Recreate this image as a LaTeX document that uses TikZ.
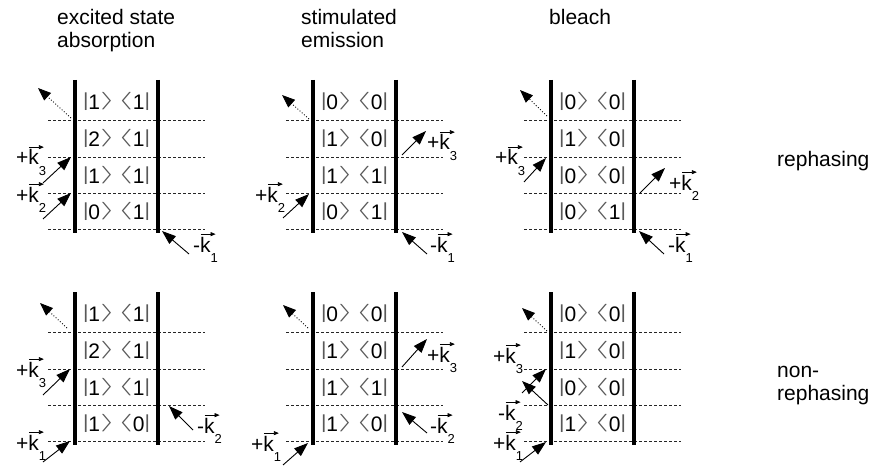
\documentclass[tikz,border=0pt]{standalone}
\usepackage{fontspec}
\setmainfont{Liberation Sans}
\usepackage{graphicx}
\usetikzlibrary{arrows.meta}
\definecolor{bkgray}{gray}{0.35}
\newcommand\vb{{\color{bkgray}\raisebox{3pt}{\scalebox{1}[0.9]{|}}}}
\newcommand\kt[1]{\vb#1{\color{bkgray}\raisebox{4pt}{\scalebox{1.9}[0.85]{$\rangle$}}}}
\newcommand\br[1]{{\color{bkgray}\raisebox{4pt}{\scalebox{1.9}[0.85]{$\langle$}}}#1\vb}
\newcommand\kb[2]{\kt{#1}\hspace{2pt}\br{#2}}
\newcommand\kvec[2]{#1\makebox[0pt][l]{\raisebox{0.85em}{\tikz[baseline=0pt]\draw[line width=0.8pt,-{Triangle[length=5pt,width=4pt]}](0pt,0pt)--(15pt,0pt);}}k\raisebox{-0.5em}{\fontsize{13}{13}\selectfont #2}}
\newcommand\panelbody[5]{%
  \foreach \yy in {120,157,193,229} {\draw[dline] (-27,\yy) -- (130,\yy);}
  \draw[bar] (0,80) -- (0,233);
  \draw[bar] (83,80) -- (83,233);
  \node (#1a) at (41.5,101) {#2};
  \node (#1b) at (41.5,138.5) {#3};
  \node (#1c) at (41.5,175) {#4};
  \node (#1d) at (41.5,211) {#5};}
\newcommand\arr[4]{\coordinate (#2s) at (#3); \coordinate (#2e) at (#4); \draw[#1] (#2s) -- (#2e);}
\begin{document}
\begin{tikzpicture}[x=1pt,y=-1pt,
  every node/.style={inner sep=0pt,font=\fontsize{21}{24}\selectfont},
  bar/.style={line width=4.5pt},
  dline/.style={dash pattern=on 3pt off 2pt,line width=0.9pt,black!85},
  inarr/.style={line width=0.9pt,-{Triangle[length=14pt,width=10pt]}},
  outarr/.style={line width=0.9pt,dotted,-{Triangle[length=13pt,width=10pt]}},
  lbl/.style={anchor=base west}]
\useasboundingbox (0,0) rectangle (876,468);
% titles
\node[lbl] (t1a) at (57,25) {excited state};
\node[lbl] (t1b) at (57,48) {absorption};
\node[lbl] (t2a) at (301,25) {stimulated};
\node[lbl] (t2b) at (301,48) {emission};
\node[lbl] (t3) at (549,25) {bleach};
\node[lbl] (r1) at (777,167) {rephasing};
\node[lbl] (r2a) at (777,377) {non-};
\node[lbl] (r2b) at (777,400) {rephasing};
% ESA rephasing
\begin{scope}[shift={(75,0)}]
\panelbody{esaR}{\kb11}{\kb21}{\kb11}{\kb01}
\arr{outarr}{esaRo}{-4,118}{-37,88}
\arr{inarr}{esaRk3}{-32,183}{-4,157}
\node[lbl] (esaRl3) at (-59,165) {\kvec{+}{3}};
\arr{inarr}{esaRk2}{-32,219}{-4,193}
\node[lbl] (esaRl2) at (-59,202) {\kvec{+}{2}};
\arr{inarr}{esaRk1}{114,254}{87,231}
\node[lbl] (esaRl1) at (118,252) {\kvec{-}{1}};
\end{scope}
% SE rephasing
\begin{scope}[shift={(313,0)}]
\panelbody{seR}{\kb00}{\kb10}{\kb11}{\kb01}
\arr{outarr}{seRo}{-4,119}{-31,95}
\arr{inarr}{seRk2}{-30,218}{-4,194}
\node[lbl] (seRl2) at (-58,202) {\kvec{+}{2}};
\arr{inarr}{seRk3}{89,155}{113,131}
\node[lbl] (seRl3) at (114,150) {\kvec{+}{3}};
\arr{inarr}{seRk1}{114,254}{89,232}
\node[lbl] (seRl1) at (117,252) {\kvec{-}{1}};
\end{scope}
% bleach rephasing
\begin{scope}[shift={(551,0)}]
\panelbody{blR}{\kb00}{\kb10}{\kb00}{\kb01}
\arr{outarr}{blRo}{-4,116}{-31,90}
\arr{inarr}{blRk3}{-27,182}{-5,158}
\node[lbl] (blRl3) at (-56,165) {\kvec{+}{3}};
\arr{inarr}{blRk2}{89,193}{114,168}
\node[lbl] (blRl2) at (118,190) {\kvec{+}{2}};
\arr{inarr}{blRk1}{113,254}{88,231}
\node[lbl] (blRl1) at (117,252) {\kvec{-}{1}};
\end{scope}
% ESA non-rephasing
\begin{scope}[shift={(75,212)}]
\panelbody{esaN}{\kb11}{\kb21}{\kb11}{\kb10}
\arr{outarr}{esaNo}{-8,116}{-35,91}
\arr{inarr}{esaNk3}{-32,183}{-5,157}
\node[lbl] (esaNl3) at (-59,165) {\kvec{+}{3}};
\arr{inarr}{esaNk2}{118,218}{94,194}
\node[lbl] (esaNl2) at (122,221) {\kvec{-}{2}};
\arr{inarr}{esaNk1}{-32,250}{-5,229}
\node[lbl] (esaNl1) at (-59,238) {\kvec{+}{1}};
\end{scope}
% SE non-rephasing
\begin{scope}[shift={(313,212)}]
\panelbody{seN}{\kb00}{\kb10}{\kb11}{\kb10}
\arr{outarr}{seNo}{-5,116}{-30,93}
\arr{inarr}{seNk3}{89,155}{114,127}
\node[lbl] (seNl3) at (114,150) {\kvec{+}{3}};
\arr{inarr}{seNk2}{114,221}{89,200}
\node[lbl] (seNl2) at (117,221) {\kvec{-}{2}};
\arr{inarr}{seNk1}{-30,253}{-5,231}
\node[lbl] (seNl1) at (-62,239) {\kvec{+}{1}};
\end{scope}
% bleach non-rephasing
\begin{scope}[shift={(551,212)}]
\panelbody{blN}{\kb00}{\kb10}{\kb00}{\kb10}
\arr{outarr}{blNo}{-4,119}{-29,96}
\arr{inarr}{blNk3}{-29,181}{-5,157}
\node[lbl] (blNl3) at (-58,151) {\kvec{+}{3}};
\arr{inarr}{blNk2}{-3,193}{-29,169}
\node[lbl] (blNl2) at (-53,208) {\kvec{-}{2}};
\arr{inarr}{blNk1}{-31,250}{-5,230}
\node[lbl] (blNl1) at (-58,238) {\kvec{+}{1}};
\end{scope}
\end{tikzpicture}
\end{document}
